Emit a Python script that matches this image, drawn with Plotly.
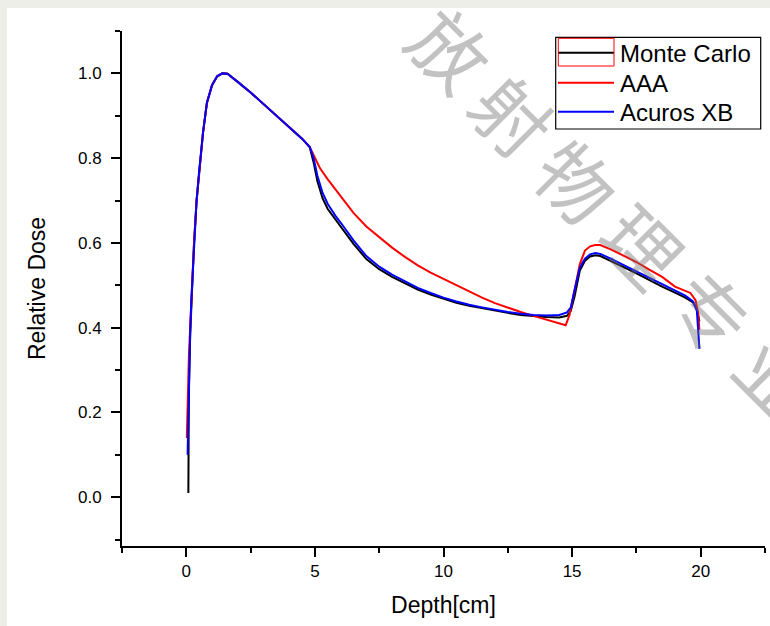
import plotly.graph_objects as go

# ---------------- data ----------------
mc_depth = [0.08, 0.1, 0.15, 0.2, 0.3, 0.4, 0.5, 0.65, 0.8, 1.0, 1.2, 1.4, 1.6, 1.8, 2.0, 2.5, 3.0, 3.5,
            4.0, 4.5, 4.8, 4.95, 5.1, 5.3, 5.5, 5.8, 6.1, 6.5, 7.0, 7.5, 8.0, 8.5, 9.0, 9.5, 10.0, 10.5,
            11.0, 11.5, 12.0, 12.5, 13.0, 13.5, 14.0, 14.5, 14.8, 14.95, 15.1, 15.3, 15.5, 15.7, 15.9,
            16.1, 16.5, 17.0, 17.5, 18.0, 18.5, 19.0, 19.4, 19.7, 19.85, 19.95]
mc_dose = [0.01, 0.25, 0.38, 0.47, 0.60, 0.70, 0.77, 0.86, 0.93, 0.972, 0.993, 1.0, 0.999, 0.99, 0.98,
           0.955, 0.928, 0.902, 0.875, 0.846, 0.826, 0.79, 0.745, 0.705, 0.68, 0.655, 0.632, 0.598,
           0.562, 0.538, 0.52, 0.505, 0.49, 0.478, 0.468, 0.459, 0.452, 0.446, 0.44, 0.435, 0.43,
           0.427, 0.425, 0.424, 0.428, 0.44, 0.475, 0.535, 0.558, 0.568, 0.571, 0.569, 0.558, 0.543,
           0.528, 0.512, 0.497, 0.483, 0.471, 0.46, 0.445, 0.415]

aaa_depth = [0.02, 0.05, 0.1, 0.15, 0.2, 0.3, 0.4, 0.5, 0.65, 0.8, 1.0, 1.2, 1.4, 1.6, 1.8, 2.0, 2.5, 3.0,
             3.5, 4.0, 4.5, 4.8, 5.0, 5.2, 5.5, 5.8, 6.1, 6.5, 7.0, 7.5, 8.0, 8.5, 9.0, 9.5, 10.0, 10.5,
             11.0, 11.5, 12.0, 12.5, 13.0, 13.5, 14.0, 14.5, 14.75, 14.9, 15.1, 15.3, 15.5, 15.7, 15.9,
             16.1, 16.5, 17.0, 17.5, 18.0, 18.5, 19.0, 19.3, 19.6, 19.8, 19.9, 19.95]
aaa_dose = [0.14, 0.25, 0.33, 0.40, 0.47, 0.60, 0.70, 0.77, 0.86, 0.93, 0.972, 0.993, 1.0, 0.999, 0.99,
            0.98, 0.955, 0.928, 0.902, 0.875, 0.846, 0.826, 0.80, 0.776, 0.750, 0.727, 0.702, 0.671,
            0.639, 0.613, 0.589, 0.567, 0.547, 0.53, 0.515, 0.50, 0.485, 0.471, 0.458, 0.447, 0.437,
            0.428, 0.419, 0.411, 0.406, 0.43, 0.49, 0.55, 0.582, 0.592, 0.595, 0.595, 0.585, 0.569,
            0.555, 0.537, 0.52, 0.497, 0.49, 0.482, 0.465, 0.435, 0.395]

axb_depth = [0.05, 0.1, 0.15, 0.2, 0.3, 0.4, 0.5, 0.65, 0.8, 1.0, 1.2, 1.4, 1.6, 1.8, 2.0, 2.5, 3.0, 3.5,
             4.0, 4.5, 4.8, 4.95, 5.1, 5.3, 5.5, 5.8, 6.1, 6.5, 7.0, 7.5, 8.0, 8.5, 9.0, 9.5, 10.0, 10.5,
             11.0, 11.5, 12.0, 12.5, 13.0, 13.5, 14.0, 14.5, 14.8, 14.95, 15.1, 15.3, 15.5, 15.7, 15.9,
             16.1, 16.5, 17.0, 17.5, 18.0, 18.5, 19.0, 19.4, 19.7, 19.85, 19.95]
axb_dose = [0.10, 0.30, 0.39, 0.47, 0.60, 0.70, 0.77, 0.86, 0.93, 0.972, 0.993, 1.0, 0.999, 0.99, 0.98,
            0.955, 0.928, 0.902, 0.875, 0.846, 0.826, 0.80, 0.758, 0.718, 0.692, 0.664, 0.64, 0.606,
            0.569, 0.544, 0.525, 0.509, 0.494, 0.482, 0.471, 0.462, 0.454, 0.448, 0.442, 0.437, 0.433,
            0.43, 0.429, 0.43, 0.436, 0.448, 0.49, 0.542, 0.563, 0.573, 0.576, 0.574, 0.563, 0.548,
            0.533, 0.517, 0.502, 0.488, 0.476, 0.462, 0.44, 0.35]

series_names = ["Monte Carlo", "AAA", "Acuros XB"]
series_colors = ["#000000", "#FF0000", "#0000FF"]
watermark_chars = ["放", "射", "物", "理", "专", "业"]

# ---------------- layout geometry (pixels) ----------------
W, H = 770, 626
L, R, T, B = 122, 5, 31, 80
PW, PH = W - L - R, H - T - B


def px2x(px):
    return (px - L) / PW


def py2y(py):
    return (H - B - py) / PH


FONT = "Liberation Sans, Arial, sans-serif"

fig = go.Figure()
for d, v, name, c in zip([mc_depth, aaa_depth, axb_depth], [mc_dose, aaa_dose, axb_dose],
                         series_names, series_colors):
    fig.add_trace(go.Scatter(x=d, y=v, mode="lines", name=name,
                             line=dict(color=c, width=2), showlegend=False))

shapes = []
annotations = []

# gray frame strips (top and left)
gray = "#EEEEE8"
shapes.append(dict(type="rect", xref="paper", yref="paper", x0=px2x(-5), x1=px2x(W + 5),
                   y0=py2y(8), y1=py2y(-5), fillcolor=gray, line=dict(width=0), layer="below"))
shapes.append(dict(type="rect", xref="paper", yref="paper", x0=px2x(-5), x1=px2x(7),
                   y0=py2y(H + 5), y1=py2y(-5), fillcolor=gray, line=dict(width=0), layer="below"))

# manual legend
shapes.append(dict(type="rect", xref="paper", yref="paper", x0=px2x(555.7), x1=px2x(760.7),
                   y0=py2y(129), y1=py2y(37.3), line=dict(color="#000000", width=1.2),
                   fillcolor="rgba(255,255,255,0)"))
entry_py = [52.7, 82.7, 111.7]
for name, c, ep in zip(series_names, series_colors, entry_py):
    shapes.append(dict(type="line", xref="paper", yref="paper", x0=px2x(558), x1=px2x(614),
                       y0=py2y(ep), y1=py2y(ep), line=dict(color=c, width=2)))
    annotations.append(dict(xref="paper", yref="paper", x=px2x(618), y=py2y(ep + 1), text=name,
                            showarrow=False, xanchor="left", yanchor="middle",
                            font=dict(family=FONT, size=24, color="#000000")))
shapes.append(dict(type="rect", xref="paper", yref="paper", x0=px2x(558.3), x1=px2x(614),
                   y0=py2y(66), y1=py2y(38.3), line=dict(color="#FF0000", width=1),
                   fillcolor="rgba(255,255,255,0)"))

# watermark
wm_pos = [(452, 48), (514, 114), (578, 180), (644, 244), (712, 310), (778, 376)]
for ch, (wx, wy) in zip(watermark_chars, wm_pos):
    annotations.append(dict(xref="paper", yref="paper", x=px2x(wx), y=py2y(wy), text=ch,
                            showarrow=False, xanchor="center", yanchor="middle", textangle=45,
                            font=dict(family="Noto Sans CJK SC", size=76,
                                      color="rgba(110,110,110,0.42)")))

fig.update_layout(
    width=W, height=H,
    margin=dict(l=L, r=R, t=T, b=B, pad=0),
    paper_bgcolor="#FFFFFF", plot_bgcolor="#FFFFFF",
    font=dict(family=FONT, color="#000000"),
    shapes=shapes, annotations=annotations,
    xaxis=dict(range=[-2.5, 22.5], tick0=0, dtick=5, ticks="outside", ticklen=9, tickwidth=2,
               tickcolor="#000000", showline=True, linewidth=2, linecolor="#000000",
               showgrid=False, zeroline=False,
               minor=dict(ticks="outside", ticklen=5, tickwidth=2, tickcolor="#000000",
                          tick0=0, dtick=2.5, showgrid=False),
               tickfont=dict(family=FONT, size=17, color="#000000"),
               title=dict(text="Depth[cm]", font=dict(family=FONT, size=23, color="#000000"),
                          standoff=16)),
    yaxis=dict(range=[-0.115, 1.1], tick0=0, dtick=0.2, tickformat=".1f", ticks="outside",
               ticklen=9, tickwidth=2, tickcolor="#000000", showline=True, linewidth=2,
               linecolor="#000000", showgrid=False, zeroline=False, ticklabelstandoff=6,
               minor=dict(ticks="outside", ticklen=5, tickwidth=2, tickcolor="#000000",
                          tick0=0, dtick=0.1, showgrid=False),
               tickfont=dict(family=FONT, size=17, color="#000000"),
               title=dict(text="Relative Dose", font=dict(family=FONT, size=23, color="#000000"),
                          standoff=26)),
)

fig.write_html("out.html")
